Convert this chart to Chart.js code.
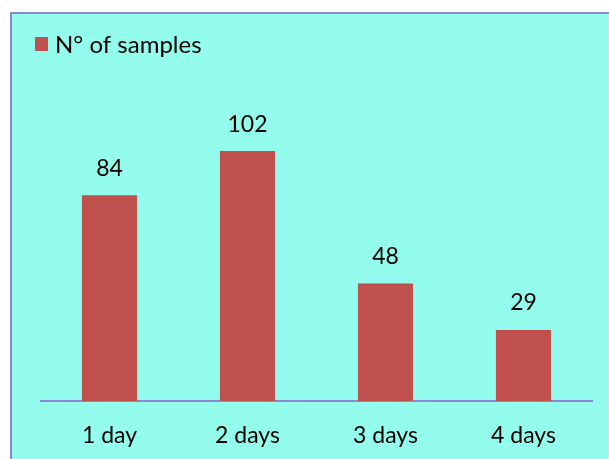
<!DOCTYPE html>
<html>
<head>
<meta charset="utf-8">
<script src="https://cdn.jsdelivr.net/npm/chart.js@4"></script>
<style>
  html, body { margin: 0; padding: 0; background: #ffffff; width: 609px; height: 459px; overflow: hidden; }
  #panel {
    position: absolute; left: 10px; top: 12px; width: 597px; height: 445px;
    background: #94fcec;
    border-left: 2px solid #8a8ac8;
    border-top: 2px solid #8a8ac8;
  }
  #chart1 { display: block; }
</style>
</head>
<body>
<div id="panel"><canvas id="chart1" width="597" height="445"></canvas></div>
<script>
const categories = ["1 day", "2 days", "3 days", "4 days"];
const samples = [84, 102, 48, 29];
const seriesName = "N° of samples";

const FONT = "Lato, 'Open Sans', sans-serif";
const BAR_COLOR = "#c0504d";

// value written above each bar, plus the legend in the top-left corner
Chart.register({
  id: "barValues",
  afterDatasetsDraw: function (chart) {
    const ctx = chart.ctx;
    const meta = chart.getDatasetMeta(0);
    ctx.save();
    ctx.font = "23px " + FONT;
    ctx.fillStyle = "#000000";
    ctx.textAlign = "center";
    ctx.textBaseline = "middle";
    meta.data.forEach(function (bar, i) {
      ctx.fillText(String(samples[i]), bar.x, bar.y - 27);
    });

    ctx.fillStyle = BAR_COLOR;
    ctx.fillRect(23, 23, 13, 14);
    ctx.fillStyle = "#000000";
    ctx.textAlign = "left";
    ctx.font = "24px " + FONT;
    ctx.fillText(seriesName, 43, 31);
    ctx.restore();
  },
});

const data = {
  labels: categories,
  datasets: [
    {
      label: seriesName,
      data: samples,
      backgroundColor: BAR_COLOR,
      borderWidth: 0,
      categoryPercentage: 1,
      barPercentage: 0.4,
    },
  ],
};

const options = {
  responsive: false,
  animation: false,
  layout: { padding: { left: 28.5, right: 16.5, top: 93, bottom: 0 } },
  plugins: {
    legend: { display: false },
    tooltip: { enabled: false },
  },
  scales: {
    x: {
      grid: { display: false, drawTicks: false },
      border: { display: true, color: "#8a8ad4", width: 2 },
      ticks: { color: "#000000", padding: 21, maxRotation: 0, font: { size: 23, family: FONT } },
      afterFit: function (scale) {
        scale.height = 58;
      },
    },
    y: {
      display: false,
      min: 0,
      max: 120,
    },
  },
};

new Chart(document.getElementById("chart1"), {
  type: "bar",
  data: data,
  options: options,
});
</script>
</body>
</html>
